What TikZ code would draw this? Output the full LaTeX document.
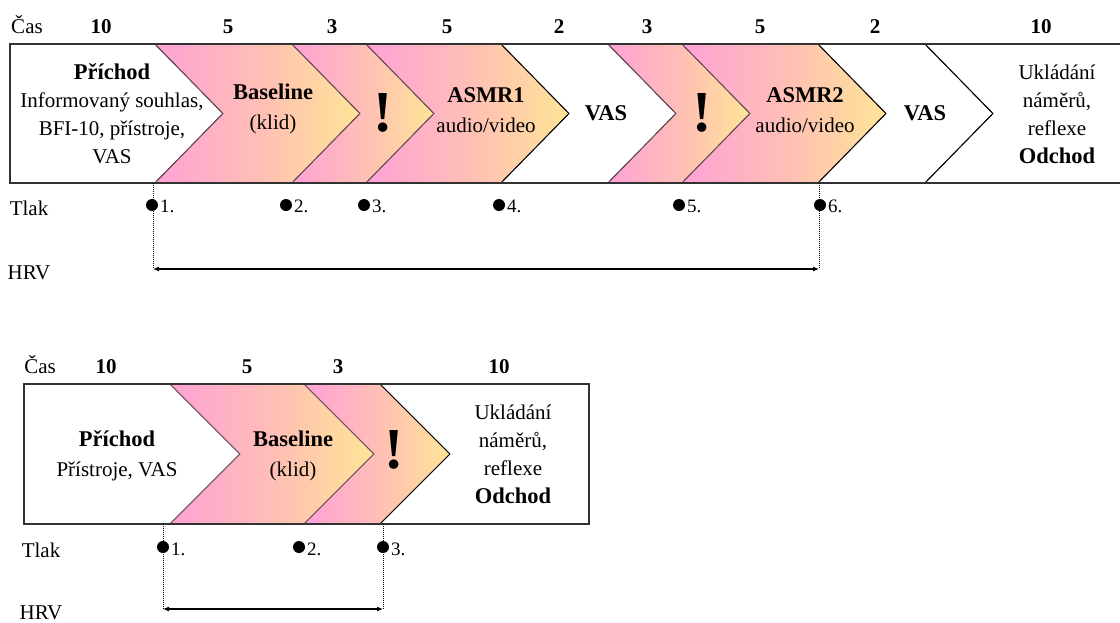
\documentclass[tikz,border=0pt]{standalone}
\usepackage{fontspec}
\setmainfont{Liberation Serif}
\usetikzlibrary{arrows.meta}
\definecolor{pinkL}{RGB}{255,162,214}
\definecolor{peachM}{RGB}{255,190,182}
\definecolor{yellowR}{RGB}{255,228,150}
\definecolor{mauve}{RGB}{105,75,90}
\definecolor{framegray}{RGB}{50,50,50}
\newcommand\hdline[1]{{\fontsize{22.5}{30}\selectfont\bfseries #1}}
\begin{document}
\begin{tikzpicture}[x=1pt,y=-1pt,
  txtfour/.style={font=\fontsize{21}{28}\selectfont, align=center, inner sep=0pt},
  txttwo/.style={font=\fontsize{21}{30}\selectfont, align=center, inner sep=0pt},
  boldone/.style={font=\fontsize{22.5}{25}\selectfont\bfseries, inner sep=0pt},
  numlab/.style={font=\fontsize{21}{25}\selectfont\bfseries, inner sep=0pt, anchor=base},
  rowlab/.style={font=\fontsize{21}{25}\selectfont, inner sep=0pt, anchor=base},
  bang/.style={font=\fontsize{58}{58}\selectfont\bfseries, inner sep=0pt},
  ptlab/.style={font=\fontsize{19}{20}\selectfont, inner sep=0pt, anchor=base west},
  colpiece/.style={draw=mauve, line width=1pt, left color=pinkL, right color=yellowR, middle color=peachM},
  whitepiece/.style={draw=black, line width=1pt, fill=white},
  outerframe/.style={draw=framegray, line width=1.6pt},
  dotmark/.style={circle, fill=black, inner sep=0pt, minimum size=12pt},
  guide/.style={dash pattern=on 1pt off 1pt, line width=1pt},
  spanarrow/.style={{Latex[length=6pt,width=5pt]}-{Latex[length=6pt,width=5pt]}, line width=1.1pt}
]
\useasboundingbox (0,0) rectangle (1120,622);
\clip (0,0) rectangle (1120,622);

% ================= TOP DIAGRAM =================
\path[whitepiece] (10,44) -- (155,44) -- (223,113.5) -- (155,183) -- (10,183) -- cycle;
\path[colpiece] (155,44) -- (292,44) -- (360,113.5) -- (292,183) -- (155,183) -- (223,113.5) -- cycle;
\path[colpiece] (292,44) -- (366,44) -- (434,113.5) -- (366,183) -- (292,183) -- (360,113.5) -- cycle;
\path[colpiece] (366,44) -- (501,44) -- (569,113.5) -- (501,183) -- (366,183) -- (434,113.5) -- cycle;
\path[whitepiece] (501,44) -- (608,44) -- (676,113.5) -- (608,183) -- (501,183) -- (569,113.5) -- cycle;
\path[colpiece] (608,44) -- (682,44) -- (750,113.5) -- (682,183) -- (608,183) -- (676,113.5) -- cycle;
\path[colpiece] (682,44) -- (818,44) -- (886,113.5) -- (818,183) -- (682,183) -- (750,113.5) -- cycle;
\path[whitepiece] (818,44) -- (925,44) -- (993,113.5) -- (925,183) -- (818,183) -- (886,113.5) -- cycle;
\path[whitepiece] (925,44) -- (1126,44) -- (1126,183) -- (925,183) -- (993,113.5) -- cycle;
\path[outerframe] (10,44) rectangle (1126,183);

\node[txtfour] (tprichod) at (112,114) {\hdline{Příchod}\\Informovaný souhlas,\\BFI-10, přístroje,\\VAS};
\node[txttwo] (tbase) at (273,109) {\hdline{Baseline}\\(klid)};
\node[bang] (tbangA) at (383,113) {!};
\node[txttwo] (tasmrA) at (486,110) {\hdline{ASMR1}\\audio/video};
\node[boldone] (tvasA) at (606,113) {VAS};
\node[bang] (tbangB) at (702,113) {!};
\node[txttwo] (tasmrB) at (805,110) {\hdline{ASMR2}\\audio/video};
\node[boldone] (tvasB) at (925,113) {VAS};
\node[txtfour] (todchod) at (1057,114) {Ukládání\\náměrů,\\reflexe\\\hdline{Odchod}};

\node[rowlab] (tcas) at (27,33) {Čas};
\node[numlab] (tnA) at (101,33) {10};
\node[numlab] (tnB) at (228,33) {5};
\node[numlab] (tnC) at (332,33) {3};
\node[numlab] (tnD) at (447,33) {5};
\node[numlab] (tnE) at (559,33) {2};
\node[numlab] (tnF) at (647,33) {3};
\node[numlab] (tnG) at (760,33) {5};
\node[numlab] (tnH) at (875,33) {2};
\node[numlab] (tnI) at (1041,33) {10};

\node[rowlab] (ttlak) at (29,215) {Tlak};
\node[rowlab] (thrv) at (29,279) {HRV};

\coordinate (tgAtop) at (153,183);
\coordinate (tgA) at (153,269);
\coordinate (tgBtop) at (819,183);
\coordinate (tgB) at (819,269);
\draw[guide] (tgAtop) -- (tgA);
\draw[guide] (tgBtop) -- (tgB);
\draw[spanarrow] (tgA) -- (tgB);

\node[dotmark] (tpA) at (152,205) {};
\node[dotmark] (tpB) at (286,205) {};
\node[dotmark] (tpC) at (364,205) {};
\node[dotmark] (tpD) at (499,205) {};
\node[dotmark] (tpE) at (679,205) {};
\node[dotmark] (tpF) at (820,205) {};
\node[ptlab] (tlA) at (160,212) {1.};
\node[ptlab] (tlB) at (294,212) {2.};
\node[ptlab] (tlC) at (372,212) {3.};
\node[ptlab] (tlD) at (507,212) {4.};
\node[ptlab] (tlE) at (687,212) {5.};
\node[ptlab] (tlF) at (828,212) {6.};

% ================= BOTTOM DIAGRAM =================
\path[whitepiece] (24,384) -- (170,384) -- (240,454) -- (170,524) -- (24,524) -- cycle;
\path[colpiece] (170,384) -- (304,384) -- (374,454) -- (304,524) -- (170,524) -- (240,454) -- cycle;
\path[colpiece] (304,384) -- (380,384) -- (450,454) -- (380,524) -- (304,524) -- (374,454) -- cycle;
\path[whitepiece] (380,384) -- (589,384) -- (589,524) -- (380,524) -- (450,454) -- cycle;
\path[outerframe] (24,384) rectangle (589,524);

\node[txttwo] (bprichod) at (117,456) {\hdline{Příchod}\\Přístroje, VAS};
\node[txttwo] (bbase) at (293,456) {\hdline{Baseline}\\(klid)};
\node[bang] (bbang) at (394,450) {!};
\node[txtfour] (bodchod) at (513,454) {Ukládání\\náměrů,\\reflexe\\\hdline{Odchod}};

\node[rowlab] (bcas) at (40,373) {Čas};
\node[numlab] (bnA) at (106,373) {10};
\node[numlab] (bnB) at (247,373) {5};
\node[numlab] (bnC) at (338,373) {3};
\node[numlab] (bnD) at (499,373) {10};

\node[rowlab] (btlak) at (41,557) {Tlak};
\node[rowlab] (bhrv) at (41,619) {HRV};

\coordinate (bgAtop) at (163,524);
\coordinate (bgA) at (163,609);
\coordinate (bgBtop) at (383,524);
\coordinate (bgB) at (383,609);
\draw[guide] (bgAtop) -- (bgA);
\draw[guide] (bgBtop) -- (bgB);
\draw[spanarrow] (bgA) -- (bgB);

\node[dotmark] (bpA) at (163,547) {};
\node[dotmark] (bpB) at (299,547) {};
\node[dotmark] (bpC) at (383,547) {};
\node[ptlab] (blA) at (171,555) {1.};
\node[ptlab] (blB) at (307,555) {2.};
\node[ptlab] (blC) at (391,555) {3.};
\end{tikzpicture}
\end{document}
